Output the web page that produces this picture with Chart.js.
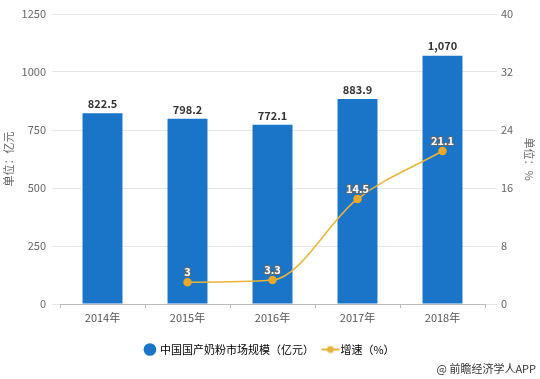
<!DOCTYPE html>
<html><head><meta charset="utf-8">
<script src="https://cdn.jsdelivr.net/npm/chart.js@4/dist/chart.umd.min.js"></script>
<style>html,body{margin:0;padding:0;background:#fff;}#w{width:540px;height:379px;}</style>
</head><body><div id="w"><canvas id="c" width="540" height="379"></canvas></div>
<script>
const categories = ['2014年','2015年','2016年','2017年','2018年'];
const marketSize = [822.5, 798.2, 772.1, 883.9, 1070];
const growth = [null, 3, 3.3, 14.5, 21.1];
const leftTicks = [0, 250, 500, 750, 1000, 1250];
const rightTicks = [0, 8, 16, 24, 32, 40];
const seriesNames = ['中国国产奶粉市场规模（亿元）', '增速（%）'];

const FONT = "'Noto Sans CJK SC','Noto Sans',sans-serif";
const BAR = '#1a74c7';
const LINE = '#e8b53c';

const lineIcon = document.createElement('canvas');
lineIcon.width = 20; lineIcon.height = 10;
(function(){const g=lineIcon.getContext('2d');g.strokeStyle=LINE;g.lineWidth=2;g.beginPath();g.moveTo(1,5);g.lineTo(19,5);g.stroke();g.fillStyle=LINE;g.beginPath();g.arc(10,5,3.5,0,Math.PI*2);g.fill();})();

const labelsPlugin = {
  id: 'valueLabels',
  afterDatasetsDraw(chart) {
    const ctx = chart.ctx;
    ctx.save();
    ctx.textAlign = 'center';
    ctx.textBaseline = 'bottom';
    const m0 = chart.getDatasetMeta(0);
    ctx.font = "bold 11px " + FONT;
    ctx.fillStyle = '#333';
    m0.data.forEach((el, i) => {
      const v = marketSize[i];
      const t = v >= 1000 ? v.toLocaleString('en-US') : String(v);
      ctx.fillText(t, el.x, el.y - 4);
    });
    const m1 = chart.getDatasetMeta(1);
    ctx.font = "bold 11px " + FONT;
    ctx.lineJoin = 'round';
    m1.data.forEach((el, i) => {
      const v = growth[i];
      if (v === null || v === undefined) return;
      const t = String(v);
      ctx.strokeStyle = '#5a6a7a';
      ctx.lineWidth = 2.5;
      ctx.strokeText(t, el.x, el.y - 5);
      ctx.fillStyle = '#fff';
      ctx.fillText(t, el.x, el.y - 5);
    });
    ctx.font = "11px " + FONT;
    ctx.fillStyle = '#333';
    ctx.textAlign = 'right';
    ctx.textBaseline = 'middle';
    ctx.fillText('@ 前瞻经济学人APP', 536, 369);
    ctx.restore();
  }
};

new Chart(document.getElementById('c'), {
  data: {
    labels: categories,
    datasets: [
      { type: 'bar', label: seriesNames[0], data: marketSize, backgroundColor: BAR, yAxisID: 'y',
        barPercentage: 0.94, categoryPercentage: 0.5, order: 2 },
      { type: 'line', label: seriesNames[1], data: growth, yAxisID: 'y1', borderColor: LINE, backgroundColor: LINE,
        borderWidth: 1.5, pointRadius: 3.5, pointStyle: 'circle', pointBackgroundColor: '#e8a92a', pointBorderColor: '#e8a92a',
        cubicInterpolationMode: 'monotone', order: 1 }
    ]
  },
  options: {
    responsive: false,
    animation: false,
    layout: { padding: { top: 14, bottom: 14, left: 0, right: 0 } },
    plugins: {
      legend: {
        position: 'bottom',
        labels: { usePointStyle: true, color: '#333', font: { size: 11, family: FONT }, padding: 12, boxWidth: 9, boxHeight: 9,
          generateLabels(chart) {
            const d = chart.data.datasets;
            return [
              { text: d[0].label, fillStyle: BAR, strokeStyle: BAR, pointStyle: 'circle', datasetIndex: 0, lineWidth: 0 },
              { text: d[1].label, fillStyle: LINE, strokeStyle: LINE, pointStyle: lineIcon, datasetIndex: 1, lineWidth: 0 }
            ];
          }
        }
      },
      tooltip: { enabled: false }
    },
    scales: {
      x: {
        grid: { display: true, drawOnChartArea: false, drawTicks: true, tickLength: 4, color: '#bbb' },
        border: { color: '#bbb' },
        ticks: { color: '#555', font: { size: 11, family: FONT }, padding: 3 },
        afterFit(s) { s.height = 28; }
      },
      y: {
        position: 'left', min: 0, max: 1250,
        afterBuildTicks(s) { s.ticks = leftTicks.map(v => ({ value: v })); },
        grid: { color: '#e6e6e6', tickLength: 8 },
        border: { display: false },
        ticks: { color: '#666', font: { size: 11, family: FONT }, padding: 6, callback: v => String(v) },
        title: { display: true, text: '单位：亿元', color: '#666', font: { size: 11, family: FONT }, padding: 2 },
        afterFit(s) { s.width = 60; }
      },
      y1: {
        position: 'right', min: 0, max: 40,
        afterBuildTicks(s) { s.ticks = rightTicks.map(v => ({ value: v })); },
        grid: { drawOnChartArea: false, color: '#e6e6e6', tickLength: 12 },
        border: { display: false },
        ticks: { color: '#666', font: { size: 11, family: FONT }, padding: 4, callback: v => String(v) },
        title: { display: true, text: '单位：%', color: '#666', font: { size: 11, family: FONT }, padding: 4 },
        afterFit(s) { s.width = 55; }
      }
    }
  },
  plugins: [labelsPlugin]
});
</script>
</body></html>
